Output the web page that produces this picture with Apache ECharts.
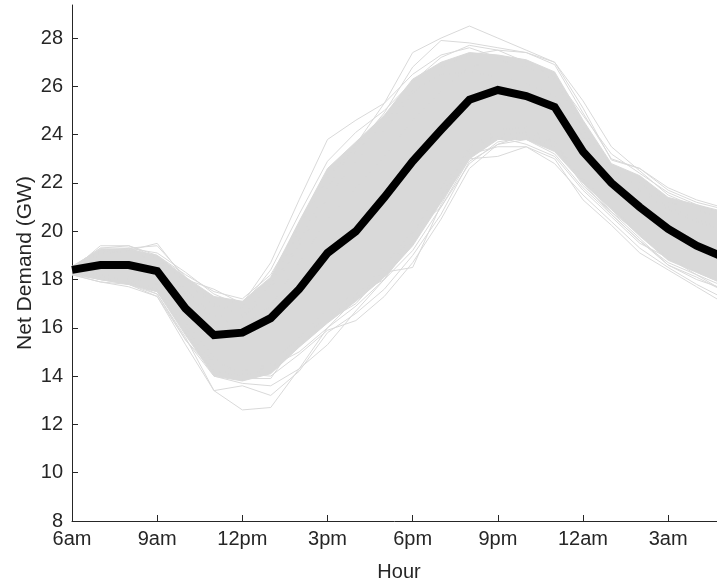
<!DOCTYPE html>
<html>
<head>
<meta charset="utf-8">
<script src="https://cdn.jsdelivr.net/npm/echarts@6/dist/echarts.min.js"></script>
<style>
html,body{margin:0;padding:0;background:#fff;}
#chart{width:717px;height:583px;}
</style>
</head>
<body>
<div id="chart"></div>
<script>
// hours after 6am (0 = 6am ... 23 = 5am)
var hours = [0,1,2,3,4,5,6,7,8,9,10,11,12,13,14,15,16,17,18,19,20,21,22,23];
var xTickValues = [0,3,6,9,12,15,18,21];
var xTickLabels = ['6am','9am','12pm','3pm','6pm','9pm','12am','3am'];
var yTickValues = [8,10,12,14,16,18,20,22,24,26,28];

// average net demand (black)
var meanDemand = [18.4,18.6,18.6,18.35,16.8,15.7,15.8,16.4,17.6,19.1,20.0,21.4,22.9,24.2,25.45,25.85,25.6,25.15,23.3,22.0,21.0,20.1,19.4,18.9];

// dense envelope of the scenario lines
var bandLow  = [18.25,18.0,17.8,17.5,15.7,14.0,13.8,14.1,15.2,16.2,17.1,18.1,19.4,21.2,23.0,23.8,23.8,23.3,22.0,20.9,19.8,18.8,18.3,17.8];
var bandHigh = [18.55,19.25,19.25,19.0,18.1,17.3,17.1,18.1,20.4,22.6,23.7,24.8,26.3,27.0,27.4,27.3,27.1,26.6,24.6,22.8,22.3,21.4,21.1,20.8];

// individual scenario lines (grey)
var scenU1 = [18.5,19.3,19.3,18.9,17.9,16.9,16.8,17.6,19.6,21.8,23.6,25.3,27.4,28.0,28.5,28.0,27.5,27.0,25.4,23.5,22.5,21.5,21.0,20.6];
var scenU2 = [18.4,19.1,19.2,19.5,18.0,17.6,17.0,18.7,21.3,23.8,24.6,25.3,26.5,27.3,27.6,27.2,26.8,26.3,24.3,22.6,22.0,21.2,20.9,20.5];
var scenU3 = [18.5,19.3,19.4,19.0,18.2,17.5,17.2,18.2,20.2,22.2,23.5,24.9,26.8,27.9,27.8,27.6,27.4,26.9,24.9,23.0,22.6,21.7,21.2,20.9];
var scenU4 = [18.5,19.2,19.1,18.8,17.6,16.5,16.4,17.5,19.4,21.4,22.9,24.2,25.7,26.8,27.3,27.5,27.4,27.0,25.1,22.95,22.6,21.8,21.3,20.96];
var scenL1 = [18.3,18.0,17.9,17.4,15.6,13.4,12.6,12.7,14.3,16.0,17.2,18.4,19.8,21.5,23.4,24.0,24.1,23.6,21.9,20.8,19.9,18.9,18.3,17.8];
var scenL2 = [18.2,17.9,17.8,17.3,15.3,13.4,13.6,13.2,14.2,15.8,16.6,17.6,19.0,20.7,22.9,23.6,23.8,23.2,21.8,20.7,19.6,18.6,18.0,17.6];
var scenL3 = [18.3,18.1,18.0,17.6,16.0,14.5,14.2,14.5,15.6,16.4,17.3,18.6,20.0,21.0,23.0,23.1,23.5,23.0,21.3,20.25,19.1,18.4,17.7,17.0];
var scenL4 = [18.3,18.0,17.9,17.5,15.8,14.2,14.0,14.3,15.3,16.3,17.0,18.3,18.5,21.1,23.2,23.5,23.5,22.8,21.5,20.4,19.3,18.5,17.8,17.2];
var scenL5 = [18.2,18.0,17.8,17.5,15.9,14.6,14.1,14.0,14.9,15.9,16.3,17.3,18.7,20.5,22.6,23.6,24.0,23.7,22.2,21.0,19.9,18.9,18.2,17.7];
var scenL6 = [18.3,18.1,17.8,17.4,15.5,14.0,13.7,13.6,14.3,15.3,16.7,18.0,19.6,21.3,23.5,24.2,24.3,23.7,22.0,20.7,19.6,18.7,18.2,17.5];
var scenM1 = [18.4,19.4,19.4,18.9,17.4,16.4,16.1,16.9,18.7,20.5,21.8,23.1,24.6,25.8,26.8,27.1,26.8,26.3,24.2,22.6,21.8,21.0,20.5,20.1];
var scenM2 = [18.5,19.0,19.3,19.4,18.1,17.0,16.5,17.8,20.0,22.4,23.3,24.5,25.8,26.5,26.6,26.4,26.1,25.6,23.9,22.4,21.7,20.9,20.4,20.0];
var scenE1 = [18.5,19.2,19.3,19.1,18.3,17.4,16.9,18.4,20.7,22.9,24.1,25.0,26.2,27.2,27.7,27.5,27.0,26.4,24.8,23.2,22.4,21.6,21.1,20.7];
var scenE2 = [18.2,17.9,17.7,17.3,15.5,14.2,14.1,14.4,15.0,16.0,16.9,18.0,19.2,21.0,22.8,23.7,23.9,23.5,22.1,20.8,19.7,18.6,18.1,17.5];
var scenE3 = [18.3,18.2,18.1,17.8,16.2,14.8,13.9,13.9,15.6,16.8,17.4,18.0,19.9,21.8,23.4,23.9,23.6,23.1,21.7,20.6,19.5,18.9,18.4,18.0];

var scenarios = [scenU1,scenU2,scenU3,scenU4,scenL1,scenL2,scenL3,scenL4,scenL5,scenL6,scenM1,scenM2,scenE1,scenE2,scenE3];

var GREY = '#d9d9d9';
var AXIS = '#262626';
var FONT = 'Liberation Sans, Arial, sans-serif';

function pairs(vals){ return hours.map(function(h,i){ return [h, vals[i]]; }); }

var series = [];
// envelope polygon built from bandHigh (forward) and bandLow (backward)
series.push({
  type:'custom', silent:true, z:1, clip:true,
  data: [[0, bandLow[0]]],
  renderItem: function(params, api){
    var pts = [];
    for (var i = 0; i < hours.length; i++) pts.push(api.coord([hours[i], bandHigh[i]]));
    for (var j = hours.length - 1; j >= 0; j--) pts.push(api.coord([hours[j], bandLow[j]]));
    var cs = params.coordSys;
    return {
      type:'polygon',
      shape:{points:pts},
      style:{fill:GREY, stroke:GREY, lineWidth:1},
      clipPath:{type:'rect', shape:{x:cs.x, y:cs.y, width:cs.width, height:cs.height}}
    };
  }
});
scenarios.forEach(function(s){
  series.push({
    type:'line', data: pairs(s), symbol:'none',
    lineStyle:{color:GREY, width:1}, silent:true, z:2
  });
});
series.push({
  type:'line', data: pairs(meanDemand), symbol:'none',
  lineStyle:{color:'#000000', width:8, join:'miter'}, silent:true, z:5
});

var chart = echarts.init(document.getElementById('chart'), null, {renderer:'canvas'});
chart.setOption({
  animation:false,
  backgroundColor:'#ffffff',
  grid:{left:72, right:0, top:5, bottom:62, containLabel:false, outerBoundsMode:'none'},
  xAxis:{
    type:'value', min:0, max:22.72,
    name:'Hour', nameLocation:'middle', nameGap:41, nameMoveOverlap:false,
    nameTextStyle:{color:AXIS, fontSize:20, fontFamily:FONT, padding:[0,0,0,9]},
    axisLine:{show:true, lineStyle:{color:AXIS, width:1}},
    axisTick:{show:true, inside:true, length:6, lineStyle:{color:AXIS}, customValues:xTickValues},
    axisLabel:{color:AXIS, fontSize:20, fontFamily:FONT, margin:8, customValues:xTickValues,
      formatter:function(v){ var k = xTickValues.indexOf(v); return k>=0 ? xTickLabels[k] : ''; }},
    splitLine:{show:false}
  },
  yAxis:{
    type:'value', min:8, max:29.37,
    name:'Net Demand (GW)', nameLocation:'middle', nameGap:36, nameRotate:90, nameMoveOverlap:false,
    nameTextStyle:{color:AXIS, fontSize:21, fontFamily:FONT},
    axisLine:{show:true, lineStyle:{color:AXIS, width:1}},
    axisTick:{show:true, inside:true, length:6, lineStyle:{color:AXIS}, customValues:yTickValues},
    axisLabel:{color:AXIS, fontSize:20, fontFamily:FONT, margin:9, customValues:yTickValues},
    splitLine:{show:false}
  },
  series: series
});
</script>
</body>
</html>
